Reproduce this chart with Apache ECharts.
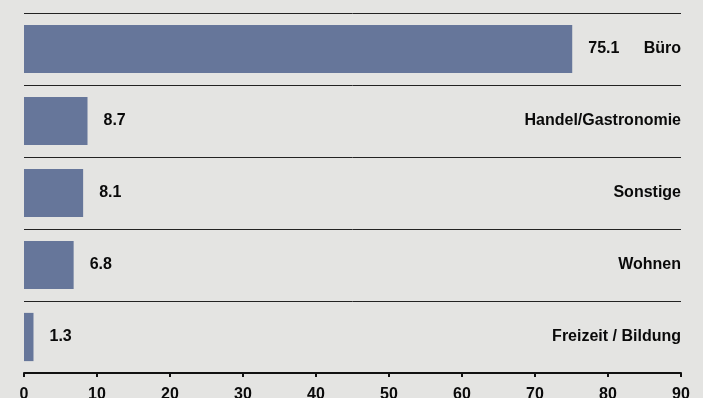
<!DOCTYPE html>
<html>
<head>
<meta charset="utf-8">
<script src="https://cdn.jsdelivr.net/npm/echarts@6/dist/echarts.min.js"></script>
<style>
  html, body { margin: 0; padding: 0; background: #e4e4e2; }
  #chart { width: 703px; height: 398px; }
</style>
</head>
<body>
<div id="chart"></div>
<script>
var categories = ['Büro', 'Handel/Gastronomie', 'Sonstige', 'Wohnen', 'Freizeit / Bildung'];
var values = [75.1, 8.7, 8.1, 6.8, 1.3];
var xTicks = [0, 10, 20, 30, 40, 50, 60, 70, 80, 90];

var chart = echarts.init(document.getElementById('chart'));

var font = 'Liberation Sans, Arial, sans-serif';

var option = {
    backgroundColor: '#e4e4e2',
    animation: false,
    grid: {
        left: 24,
        right: 22,
        top: 13,
        bottom: 25,
        outerBoundsMode: 'none'
    },
    xAxis: {
        type: 'value',
        min: xTicks[0],
        max: xTicks[xTicks.length - 1],
        interval: 10,
        axisLine: { show: true, lineStyle: { color: '#111', width: 2 } },
        axisTick: { show: true, length: 4, lineStyle: { color: '#111', width: 2 } },
        splitLine: { show: false },
        axisLabel: {
            color: '#0a0a0a',
            fontFamily: font,
            fontWeight: 'bold',
            fontSize: 16,
            margin: 14
        }
    },
    yAxis: {
        type: 'category',
        data: categories,
        inverse: true,
        position: 'right',
        axisLine: { show: false },
        axisTick: { show: false },
        splitLine: { show: true, lineStyle: { color: '#222', width: 1 } },
        axisLabel: {
            inside: true,
            margin: 0,
            color: '#0a0a0a',
            fontFamily: font,
            fontWeight: 'bold',
            fontSize: 16
        }
    },
    series: [
        {
            type: 'bar',
            data: values,
            barCategoryGap: '33%',
            itemStyle: { color: '#66769a' },
            label: {
                show: true,
                position: 'right',
                distance: 16,
                color: '#0a0a0a',
                fontFamily: font,
                fontWeight: 'bold',
                fontSize: 16,
                formatter: function (p) { return p.value.toFixed(1); }
            }
        }
    ]
};

chart.setOption(option);
</script>
</body>
</html>
